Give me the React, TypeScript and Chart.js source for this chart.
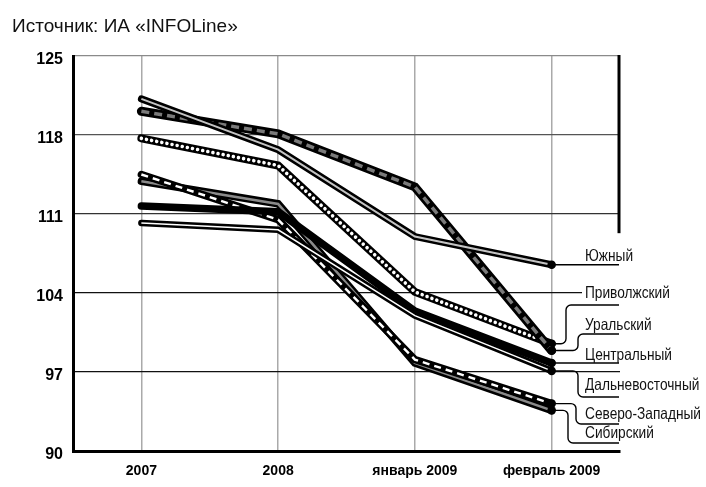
import React, { useEffect, useRef } from 'react';
import { Chart, registerables } from 'chart.js';

Chart.register(...registerables);

// ---- data ----
const categories = ['2007', '2008', 'январь 2009', 'февраль 2009'];
const yTickValues = [90, 97, 104, 111, 118, 125];
const sourceNote = 'Источник: ИА «INFOLine»';

const yuzhny = [121.2, 116.7, 109.0, 106.5];
const uralsky = [120.1, 118.1, 113.4, 98.9];
const privolzhsky = [117.7, 115.3, 104.1, 99.5];
const severoZapadny = [114.5, 110.5, 98.1, 94.2];
const sibirsky = [113.9, 111.9, 97.8, 93.6];
const tsentralny = [111.7, 111.2, 102.4, 97.8];
const dalnevostochny = [110.2, 109.6, 102.0, 97.1];

const regionNames = ['Южный', 'Приволжский', 'Уральский', 'Центральный', 'Дальневосточный', 'Северо-Западный', 'Сибирский'];
const regionData: Record<string, number[]> = {
  'Южный': yuzhny,
  'Приволжский': privolzhsky,
  'Уральский': uralsky,
  'Центральный': tsentralny,
  'Дальневосточный': dalnevostochny,
  'Северо-Западный': severoZapadny,
  'Сибирский': sibirsky,
};

// ---- styles (drawing order: first = bottom) ----
type Inner = { color: string; width: number; dash?: number[]; cap?: CanvasLineCap };
const lineStyles: { name: string; outer: number; inner?: Inner }[] = [
  { name: 'Сибирский', outer: 7.5, inner: { color: '#8a8a8a', width: 2.6 } },
  { name: 'Северо-Западный', outer: 7.5, inner: { color: '#ffffff', width: 2.4, dash: [7, 5] } },
  { name: 'Центральный', outer: 7.5 },
  { name: 'Дальневосточный', outer: 6.5, inner: { color: '#ffffff', width: 1.5 } },
  { name: 'Приволжский', outer: 8, inner: { color: '#ffffff', width: 3.6, dash: [0.01, 5.2], cap: 'round' } },
  { name: 'Уральский', outer: 9, inner: { color: '#7a7a7a', width: 3.5, dash: [8, 5] } },
  { name: 'Южный', outer: 7, inner: { color: '#c4c4c4', width: 2 } },
];

// label layout: bend x of leader, y of underline, text baseline
const labelLayout: { name: string; bendX: number | null; lineY: number | null; baseline: number }[] = [
  { name: 'Южный', bendX: null, lineY: null, baseline: 261 },
  { name: 'Приволжский', bendX: 566, lineY: 305, baseline: 298 },
  { name: 'Уральский', bendX: 578, lineY: 334, baseline: 330 },
  { name: 'Центральный', bendX: null, lineY: null, baseline: 360 },
  { name: 'Дальневосточный', bendX: 578, lineY: 397, baseline: 390 },
  { name: 'Северо-Западный', bendX: 576, lineY: 424, baseline: 419 },
  { name: 'Сибирский', bendX: 568, lineY: 443, baseline: 438 },
];

const LABEL_FONT = '16.5px "Liberation Sans", Arial, sans-serif';
const LABEL_SQUEEZE = 0.83;

const labelPlugin = {
  id: 'regionLabels',
  beforeDatasetsDraw(chart: any) {
    const ctx: CanvasRenderingContext2D = chart.ctx;
    const xs = chart.scales.x;
    const ys = chart.scales.y;
    const area = chart.chartArea;
    const endX = xs.getPixelForValue(categories.length - 1);
    const lineEnd = area.right - 1;
    ctx.save();
    // right partial frame
    ctx.strokeStyle = '#000';
    ctx.lineWidth = 3;
    ctx.beginPath();
    ctx.moveTo(area.right - 1, area.top - 1);
    ctx.lineTo(area.right - 1, ys.getPixelForValue(109.3));
    ctx.stroke();

    ctx.font = LABEL_FONT;
    ctx.lineWidth = 1.4;
    labelLayout.forEach((l) => {
      const d = regionData[l.name];
      const dy = ys.getPixelForValue(d[d.length - 1]);
      ctx.strokeStyle = '#000';
      ctx.beginPath();
      ctx.moveTo(endX, dy);
      if (l.bendX != null && l.lineY != null) {
        const r = Math.min(5, Math.abs(l.lineY - dy) / 2);
        ctx.arcTo(l.bendX, dy, l.bendX, l.lineY, r);
        ctx.arcTo(l.bendX, l.lineY, lineEnd, l.lineY, r);
        ctx.lineTo(lineEnd, l.lineY);
      } else {
        ctx.lineTo(lineEnd, dy);
      }
      ctx.stroke();
      const w = ctx.measureText(l.name).width * LABEL_SQUEEZE;
      ctx.fillStyle = '#fff';
      ctx.fillRect(582, l.baseline - 12.5, w + 5, 13.5);
      ctx.save();
      ctx.translate(585, l.baseline);
      ctx.scale(LABEL_SQUEEZE, 1);
      ctx.fillStyle = '#111';
      ctx.textBaseline = 'alphabetic';
      ctx.textAlign = 'left';
      ctx.fillText(l.name, 0, 0);
      ctx.restore();
    });
    ctx.restore();
  },
};

export default function App() {
  const ref = useRef<HTMLCanvasElement>(null);
  useEffect(() => {
    const canvas = ref.current!;
    const datasets: any[] = [];
    lineStyles.forEach((s) => {
      const data = regionData[s.name];
      datasets.push({
        label: s.name,
        data,
        borderColor: '#000',
        borderWidth: s.outer,
        borderCapStyle: 'round',
        borderJoinStyle: 'miter',
        pointRadius: s.inner ? 0 : [0, 0, 0, 4.3],
        pointBackgroundColor: '#000',
        pointBorderWidth: 0,
        fill: false,
      });
      if (s.inner) {
        datasets.push({
          label: s.name + ' inner',
          data,
          borderColor: s.inner.color,
          borderWidth: s.inner.width,
          borderDash: s.inner.dash || [],
          borderCapStyle: s.inner.cap || 'butt',
          borderJoinStyle: 'miter',
          pointRadius: [0, 0, 0, 4.3],
          pointBackgroundColor: '#000',
          pointBorderWidth: 0,
          fill: false,
        });
      }
    });
    const n = datasets.length;
    datasets.forEach((d, i) => (d.order = n - i));

    const gridColor = (v: number) => {
      if (v === 125) return '#8a8a8a';
      if (v === 118) return '#555';
      if (v === 111) return '#333';
      return '#111';
    };

    const chart = new Chart(canvas, {
      type: 'line',
      data: { labels: categories, datasets },
      options: {
        responsive: false,
        animation: false,
        devicePixelRatio: 1,
        layout: { padding: { left: 0, right: 86, top: 56, bottom: 0 } },
        plugins: { legend: { display: false }, tooltip: { enabled: false }, title: { display: false } },
        elements: { line: { tension: 0 } },
        scales: {
          x: {
            type: 'category',
            offset: true,
            grid: { offset: false, color: '#aaa', lineWidth: 1.5, drawTicks: false },
            border: { color: '#000', width: 3 },
            ticks: {
              padding: 12,
              color: '#000',
              maxRotation: 0,
              autoSkip: false,
              font: { family: '"Liberation Sans", Arial, sans-serif', size: 14, weight: 'bold' },
            },
            afterFit: (s: any) => { s.height = 36; },
          },
          y: {
            min: 90,
            max: 125,
            afterBuildTicks: (s: any) => { s.ticks = yTickValues.map((v) => ({ value: v })); },
            grid: { color: (c: any) => gridColor(c.tick.value), lineWidth: 1.3, drawTicks: false },
            border: { color: '#000', width: 3 },
            ticks: {
              padding: 10,
              labelOffset: 4,
              color: '#000',
              font: { family: '"Liberation Sans", Arial, sans-serif', size: 16, weight: 'bold' },
            },
            afterFit: (s: any) => { s.width = 73; },
          },
        },
      } as any,
      plugins: [labelPlugin],
    });
    return () => chart.destroy();
  }, []);

  return (
    <div style={{ position: 'absolute', left: 0, top: 0, width: 706, height: 487, background: '#fff', overflow: 'hidden' }}>
      <canvas ref={ref} width={706} height={487} style={{ position: 'absolute', left: 0, top: 0, width: 706, height: 487 }} />
      <div style={{ position: 'absolute', left: 12, top: 15, font: '19px "Liberation Sans", Arial, sans-serif', color: '#111', whiteSpace: 'nowrap' }}>
        {sourceNote}
      </div>
    </div>
  );
}
